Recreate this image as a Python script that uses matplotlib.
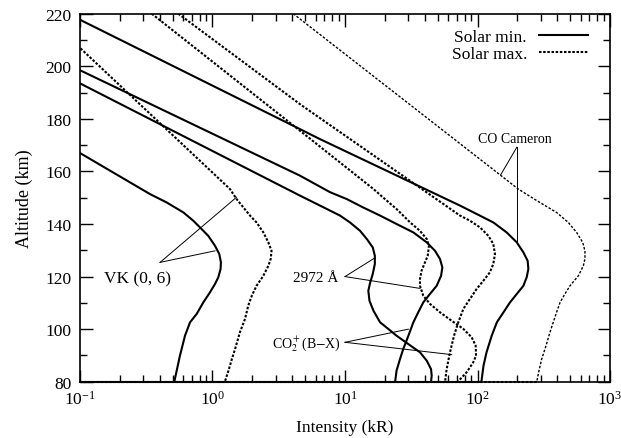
import matplotlib
matplotlib.use("Agg")
import matplotlib.pyplot as plt
from matplotlib.lines import Line2D
from matplotlib.ticker import LogLocator, MultipleLocator

plt.rcParams['font.family'] = ['Liberation Serif', 'DejaVu Serif']
plt.rcParams['mathtext.fontset'] = 'stix'

# ---- data (altitude km, intensity kR) ----
vk_min_alt = [170, 167, 151.4, 148.2, 144.4, 141.25, 138.7, 135.5, 131.7, 128.6, 125.4, 122.9,
              119.7, 117.2, 114.0, 110.2, 105.8, 102.6, 97.5, 89.9, 80]
vk_min_int = [0.079, 0.1, 0.337, 0.451, 0.603, 0.716, 0.805, 0.929, 1.045, 1.125, 1.158, 1.151,
              1.106, 1.045, 0.957, 0.853, 0.760, 0.677, 0.620, 0.568, 0.515]
vk_max_alt = [220, 207, 153.3, 149.5, 146.3, 143.2, 140.6, 136.8, 133.0, 129.8, 126.7, 124.1,
              120.3, 116.5, 112.7, 108.9, 103.9, 98.8, 92.4, 88.6, 84.2, 80]
vk_max_int = [0.054, 0.1, 1.355, 1.52, 1.71, 1.92, 2.15, 2.42, 2.64, 2.79, 2.75, 2.64,
              2.42, 2.15, 1.98, 1.86, 1.76, 1.61, 1.48, 1.40, 1.32, 1.24]

oi_min_alt = [200, 193.5, 150.8, 145.1, 143.2, 140.6, 137.4, 134.3, 131.1, 127.9, 124.8, 121.0,
              117.8, 114.6, 110.8, 107.0, 102.6, 100.1, 97.5, 94.3, 91.2, 88.0, 84.8, 82.3, 80]
oi_min_int = [0.055, 0.1, 4.57, 7.71, 9.17, 10.9, 13.0, 14.6, 16.2, 16.8, 16.8, 16.2,
              15.5, 15.0, 15.3, 16.4, 18.4, 21.2, 24.5, 30.1, 36.8, 41.4, 44.6, 45.1, 44.6]
oi_max_alt = [220, 175.5, 153.3, 149.5, 145.7, 140.6, 137.4, 134.3, 131.7, 127.9, 124.8, 122.2,
              119.1, 116.5, 112.7, 109.6, 106.4, 103.2, 100.1, 96.9, 93.7, 89.9, 87.4, 83.6, 80]
oi_max_int = [0.348, 4.57, 16.4, 20.0, 24.5, 31.0, 36.8, 41.4, 43.0, 42.1, 39.7, 37.8,
              36.8, 36.8, 39.0, 43.8, 52.1, 63.8, 78.2, 90.4, 96.9, 97.5, 92.9, 82.8, 71.0]

co2p_min_alt = [205, 198.5, 158.4, 152.1, 149.5, 146.3, 143.2, 140.0, 136.8, 133.0, 129.8, 126.7,
                123.5, 120.3, 116.5, 113.4, 110.2, 106.4, 102.6, 97.5, 92.4, 88.6, 84.2, 80]
co2p_min_int = [0.054, 0.1, 4.57, 7.71, 10.3, 13.7, 18.4, 24.5, 32.8, 41.4, 47.8, 52.1,
                54.3, 53.1, 49.2, 43.8, 39.0, 35.7, 32.8, 30.1, 27.5, 26.0, 24.5, 23.9]
co2p_max_alt = [220, 185.6, 143.2, 141.25, 138.7, 135.5, 132.4, 128.6, 124.8, 121.6, 118.4, 115.3,
                111.5, 107.7, 102.6, 97.5, 91.2, 84.8, 80]
co2p_max_int = [0.552, 4.57, 73.8, 87.7, 104.5, 120.8, 131.6, 135.5, 131.6, 124, 110.6, 98.6,
                87.7, 78.2, 71.6, 66.5, 62.0, 58.5, 56.9]

cam_min_alt = [220, 217.7, 176.1, 172.3, 147.0, 143.8, 140.6, 136.8, 133.0, 129.2, 126.0, 122.9,
               119.7, 116.5, 113.4, 110.2, 106.4, 102.6, 97.5, 91.2, 86.1, 80]
cam_min_int = [0.081, 0.1, 4.57, 6.47, 73.8, 98.6, 131.6, 166, 198, 222, 239, 242,
               235, 222, 198, 176, 157, 140, 128, 117, 111, 107]
cam_max_alt = [220, 153.3, 148.9, 144.4, 140.6, 136.8, 133.0, 129.8, 126.7, 124.1, 120.3, 116.5,
               113.4, 110.2, 106.4, 102.6, 98.8, 93.7, 88.6, 84.2, 80]
cam_max_int = [4.07, 203, 280, 395, 484, 560, 622, 647, 647, 629, 577, 499,
               457, 420, 395, 373, 352, 329, 305, 291, 280]

# annotation anchors: (intensity, altitude)
vk_label = (0.274, 119.4)
vk_vertex = (0.402, 125.4)
vk_targets = [(1.52, 150.2), (1.045, 129.8)]
oi_label = (6.04, 119.7)
oi_vertex = (10.0, 120.0)
oi_targets = [(16.8, 127.1), (36.8, 115.5)]
co2p_label = (5.09, 94.7)
co2p_vertex = (10.0, 95.0)
co2p_targets = [(30.1, 100.0), (63.8, 90.3)]
cam_label = (192, 172.6)
cam_vertex = (198, 169.2)
cam_targets = [(150, 158.8), (198, 132.6)]

x_range = (0.1, 1000)
y_range = (80, 220)

fig = plt.figure(figsize=(6.21, 4.39), dpi=100)
ax = fig.add_axes([0.1288, 0.1282, 0.9823 - 0.1288, 0.9665 - 0.1282])

LW = 1.5
dot = (0, (1.2, 0.8))
ax.plot(vk_min_int, vk_min_alt, color='black', lw=LW, ls='-')
ax.plot(vk_max_int, vk_max_alt, color='black', lw=LW, ls=dot)
ax.plot(oi_min_int, oi_min_alt, color='black', lw=LW, ls='-')
ax.plot(oi_max_int, oi_max_alt, color='black', lw=LW, ls=dot)
ax.plot(co2p_min_int, co2p_min_alt, color='black', lw=LW, ls='-')
ax.plot(co2p_max_int, co2p_max_alt, color='black', lw=LW, ls=dot)
ax.plot(cam_min_int, cam_min_alt, color='black', lw=LW, ls='-')
ax.plot(cam_max_int, cam_max_alt, color='black', lw=1.0, ls=(0, (1.8, 1.2)))

# curves returning along the lower boundary
ax.plot([x_range[0], cam_min_int[-1]], [cam_min_alt[-1]] * 2, color='black', lw=LW, clip_on=False)
ax.plot([x_range[0], cam_max_int[-1]], [cam_max_alt[-1]] * 2, color='black', lw=LW, ls=dot, clip_on=False)

def pointer(label, text, vertex, targets, size):
    ax.text(label[0], label[1], text, ha='center', va='center', fontsize=size)
    for t in targets:
        ax.plot([vertex[0], t[0]], [vertex[1], t[1]], color='black', lw=0.7)

pointer(vk_label, 'VK (0, 6)', vk_vertex, vk_targets, 12.5)
pointer(oi_label, '2972 Å', oi_vertex, oi_targets, 11)
pointer(co2p_label, r'CO$_2^+$(B$-$X)', co2p_vertex, co2p_targets, 10)
pointer(cam_label, 'CO Cameron', cam_vertex, cam_targets, 10)

ax.set_xscale('log')
ax.set_xlim(*x_range)
ax.set_ylim(*y_range)
ax.xaxis.set_major_locator(LogLocator(base=10, numticks=10))
ax.xaxis.set_minor_locator(LogLocator(base=10, subs=range(2, 10), numticks=20))
ax.yaxis.set_major_locator(MultipleLocator(20))
ax.yaxis.set_minor_locator(MultipleLocator(10))
ax.tick_params(which='both', direction='in', top=True, right=True, width=1.0)
ax.tick_params(which='major', length=9, labelsize=12.5, pad=6)
ax.tick_params(which='minor', length=5)
for s in ax.spines.values():
    s.set_linewidth(1.2)

ax.set_xlabel('Intensity (kR)', fontsize=12.5, labelpad=8)
ax.set_ylabel('Altitude (km)', fontsize=13, labelpad=9)

handles = [Line2D([], [], color='black', lw=LW, ls='-'),
           Line2D([], [], color='black', lw=LW, ls=dot)]
ax.legend(handles, ['Solar min.', 'Solar max.'], loc='upper right',
          bbox_to_anchor=(0.958, 0.96), frameon=False, markerfirst=False,
          fontsize=12.5, handlelength=2.8, handletextpad=0.7, labelspacing=0.08,
          borderpad=0, borderaxespad=0)

fig.savefig('out.png', dpi=100)
